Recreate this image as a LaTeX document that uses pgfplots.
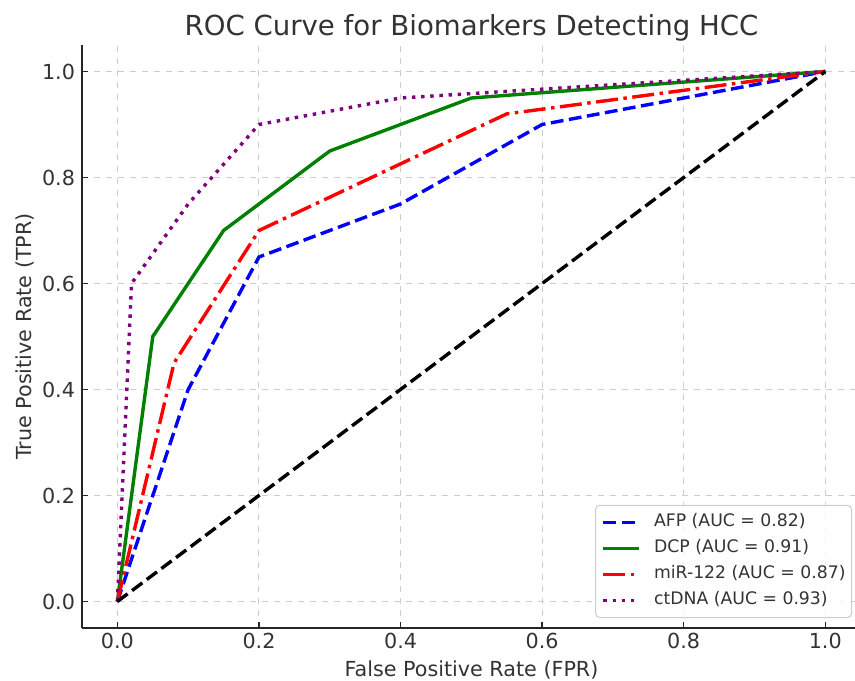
\documentclass[border=0pt]{standalone}
\usepackage{fontspec}
\setmainfont{DejaVu Sans}
\usepackage{pgfplots}
\pgfplotsset{compat=1.18}

\definecolor{mplblue}{rgb}{0,0,1}
\definecolor{mplgreen}{rgb}{0,0.5,0}
\definecolor{mplred}{rgb}{1,0,0}
\definecolor{mplpurple}{rgb}{0.5,0,0.5}
\definecolor{txt}{gray}{0.2}

\begin{document}
\begin{tikzpicture}
\begin{axis}[
    scale only axis,
    width=386.5pt, height=291.5pt,
    xmin=-0.05, xmax=1.042,
    ymin=-0.05, ymax=1.05,
    axis x line*=bottom, axis y line*=left,
    axis line style={black!85, line width=0.75pt},
    tick align=inside,
    major tick length=3pt,
    tick style={black!85, line width=0.7pt},
    xtick={0,0.2,...,1.0}, ytick={0,0.2,...,1.0},
    /pgf/number format/.cd, fixed, fixed zerofill, precision=1, assume math mode=true,
    /pgfplots/.cd,
    ticklabel style={font=\fontsize{10.35}{12}\selectfont, text=txt},
    xticklabel style={yshift=1pt},
    grid=major,
    grid style={dashed, black!20, line width=0.5pt},
    every axis title shift=0pt,
    title={ROC Curve for Biomarkers Detecting HCC},
    title style={at={(axis description cs:0.5,1)}, anchor=base, yshift=4.5pt, xshift=1.5pt,
        font=\fontsize{13.8}{16}\selectfont, text=txt},
    xlabel={False Positive Rate (FPR)},
    xlabel style={at={(axis description cs:0.5,0)}, anchor=center, yshift=-21pt, xshift=1.5pt,
        font=\fontsize{10.35}{12}\selectfont, text=txt},
    ylabel={True Positive Rate (TPR)},
    ylabel style={at={(axis description cs:-0.0737,0.5)}, anchor=center,
        font=\fontsize{10.35}{12}\selectfont, text=txt},
    legend image code/.code={\draw[#1] (0pt,0pt) -- (18pt,0pt);},
    legend cell align=left,
    legend style={
        at={(1,0)}, anchor=south east, xshift=-1.5pt, yshift=5pt,
        draw=black!20, line width=0.5pt, rounded corners=2pt,
        fill=white, fill opacity=0.8, text opacity=1,
        font=\fontsize{8.63}{10}\selectfont, text=txt,
        inner xsep=3pt, inner ysep=4.5pt, row sep=4.9pt,
        nodes={inner sep=0pt, text height=6.3pt, text depth=1.8pt},
        /tikz/every odd column/.append style={column sep=6.5pt},
    },
]
\addplot[mplblue, line width=1.7pt, dash pattern=on 6.4pt off 2.76pt] coordinates {
    (0,0) (0.1,0.4) (0.2,0.65) (0.3,0.7) (0.4,0.75) (0.6,0.9) (1,1)
};
\addlegendentry{AFP (AUC = 0.82)}
\addplot[mplgreen, line width=1.7pt] coordinates {
    (0,0) (0.05,0.5) (0.15,0.7) (0.3,0.85) (0.5,0.95) (1,1)
};
\addlegendentry{DCP (AUC = 0.91)}
\addplot[mplred, line width=1.7pt, dash pattern=on 11pt off 2.76pt on 1.73pt off 2.76pt] coordinates {
    (0,0) (0.08,0.45) (0.2,0.7) (0.55,0.92) (1,1)
};
\addlegendentry{miR-122 (AUC = 0.87)}
\addplot[mplpurple, line width=1.7pt, dash pattern=on 1.73pt off 2.85pt] coordinates {
    (0,0) (0.02,0.6) (0.1,0.75) (0.2,0.9) (0.4,0.95) (1,1)
};
\addlegendentry{ctDNA (AUC = 0.93)}
\addplot[black, line width=1.7pt, dash pattern=on 6.4pt off 2.76pt, forget plot] coordinates {
    (0,0) (1,1)
};
\coordinate (ll) at (rel axis cs:0,0);
\coordinate (ur) at (rel axis cs:1,1);
\end{axis}
\pgfresetboundingbox
\path ([shift={(-41pt,-26pt)}]ll) rectangle ([shift={(0pt,22.5pt)}]ur);
\end{tikzpicture}
\end{document}
